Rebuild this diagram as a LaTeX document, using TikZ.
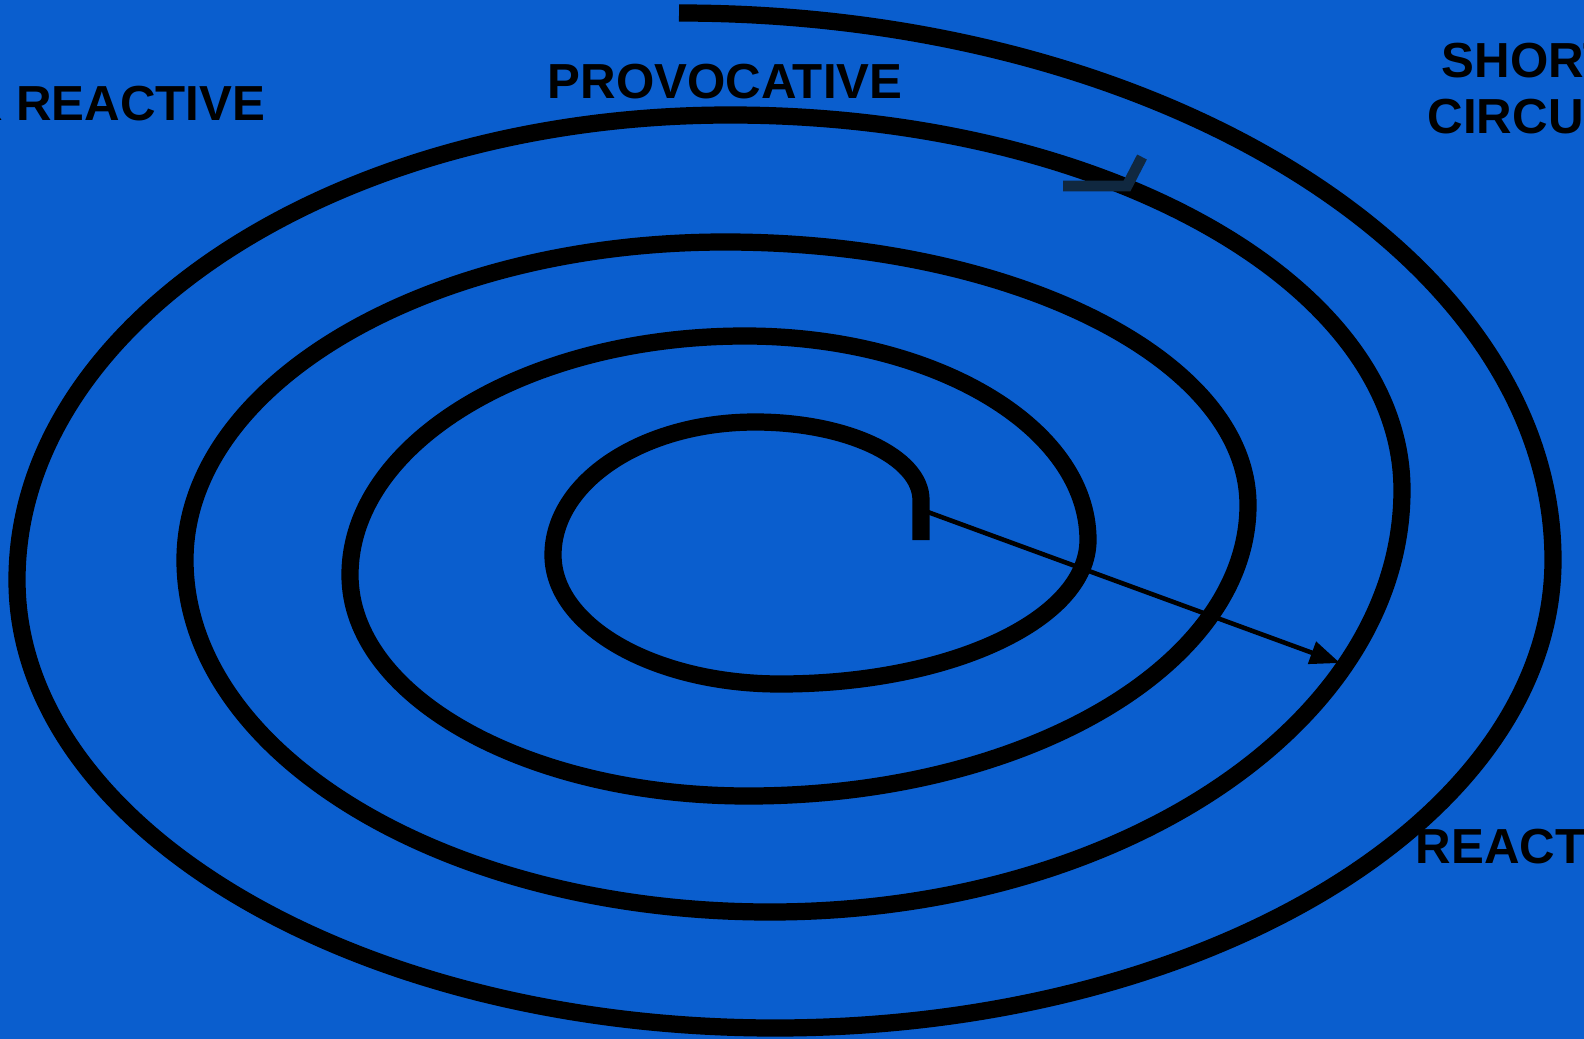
\documentclass[tikz,border=0pt]{standalone}
\usepackage{fontspec}
\setmainfont{Liberation Sans}
\usetikzlibrary{arrows.meta,calc}
\definecolor{bgblue}{RGB}{10,94,206}
\definecolor{tickcol}{RGB}{16,40,64}
\tikzset{
  spiralline/.style={line width=4.9pt, black, line join=round},
  lbl/.style={font=\fontsize{14}{16}\selectfont\bfseries, text=black, inner sep=0pt},
  arr/.style={line width=1.3pt, black, -{Triangle[length=8.5pt,width=6.5pt]}},
}
\begin{document}
\begin{tikzpicture}[x=0.01cm,y=-0.01cm]
\fill[bgblue] (0,0) rectangle (1584,1039);
\useasboundingbox (0,0) rectangle (1584,1039);
\clip (0,0) rectangle (1584,1039);
% extremes of the spiral (right/top/left/bottom)
\coordinate (s)  at (921,540);
\coordinate (p0) at (921,500);
\coordinate (t1) at (755,422);
\coordinate (l1) at (553,555);
\coordinate (b1) at (780,684);
\coordinate (r1) at (1088,540);
\coordinate (t2) at (745,336);
\coordinate (l2) at (350,575);
\coordinate (b2) at (748,796);
\coordinate (r2) at (1248,505);
\coordinate (t3) at (725,242);
\coordinate (l3) at (185,560);
\coordinate (b3) at (770,912);
\coordinate (r3) at (1402,490);
\coordinate (t4) at (730,115);
\coordinate (l4) at (17,580);
\coordinate (b4) at (775,1028);
\coordinate (r4) at (1553,560);
\coordinate (t5) at (679,13);
\draw[spiralline] (s) -- (p0)
 .. controls ($(p0)!0.5523!(p0|-t1)$) and ($(t1)!0.5523!(p0|-t1)$) .. (t1)
 .. controls ($(t1)!0.5523!(l1|-t1)$) and ($(l1)!0.5523!(l1|-t1)$) .. (l1)
 .. controls ($(l1)!0.5523!(l1|-b1)$) and ($(b1)!0.5523!(l1|-b1)$) .. (b1)
 .. controls ($(b1)!0.5523!(r1|-b1)$) and ($(r1)!0.5523!(r1|-b1)$) .. (r1)
 .. controls ($(r1)!0.5523!(r1|-t2)$) and ($(t2)!0.5523!(r1|-t2)$) .. (t2)
 .. controls ($(t2)!0.5523!(l2|-t2)$) and ($(l2)!0.5523!(l2|-t2)$) .. (l2)
 .. controls ($(l2)!0.5523!(l2|-b2)$) and ($(b2)!0.5523!(l2|-b2)$) .. (b2)
 .. controls ($(b2)!0.5523!(r2|-b2)$) and ($(r2)!0.5523!(r2|-b2)$) .. (r2)
 .. controls ($(r2)!0.5523!(r2|-t3)$) and ($(t3)!0.5523!(r2|-t3)$) .. (t3)
 .. controls ($(t3)!0.5523!(l3|-t3)$) and ($(l3)!0.5523!(l3|-t3)$) .. (l3)
 .. controls ($(l3)!0.5523!(l3|-b3)$) and ($(b3)!0.5523!(l3|-b3)$) .. (b3)
 .. controls ($(b3)!0.5523!(r3|-b3)$) and ($(r3)!0.5523!(r3|-b3)$) .. (r3)
 .. controls ($(r3)!0.5523!(r3|-t4)$) and ($(t4)!0.5523!(r3|-t4)$) .. (t4)
 .. controls ($(t4)!0.5523!(l4|-t4)$) and ($(l4)!0.5523!(l4|-t4)$) .. (l4)
 .. controls ($(l4)!0.5523!(l4|-b4)$) and ($(b4)!0.5523!(l4|-b4)$) .. (b4)
 .. controls ($(b4)!0.5523!(r4|-b4)$) and ($(r4)!0.5523!(r4|-b4)$) .. (r4)
 .. controls ($(r4)!0.5523!(r4|-t5)$) and ($(t5)!0.5523!(r4|-t5)$) .. (t5);
% small tick mark
\coordinate (k1) at (1063,186);
\coordinate (k2) at (1127,186);
\coordinate (k3) at (1142,157);
\draw[tickcol, line width=3.1pt] (k1) -- (k2) -- (k3);
% arrow
\coordinate (a) at (925,511);
\coordinate (b) at (1340,663);
\draw[arr] (a) -- (b);
% labels
\node[lbl] (prov) at (725,82) {PROVOCATIVE};
\node[lbl, anchor=east] (lreact) at (266,104) {R REACTIVE};
\node[lbl, anchor=west] (short) at (1441,61) {SHORT};
\node[lbl, anchor=west] (circ) at (1427,117) {CIRCUI};
\node[lbl, anchor=west] (rreact) at (1415,847) {REACTI};
\end{tikzpicture}
\end{document}
